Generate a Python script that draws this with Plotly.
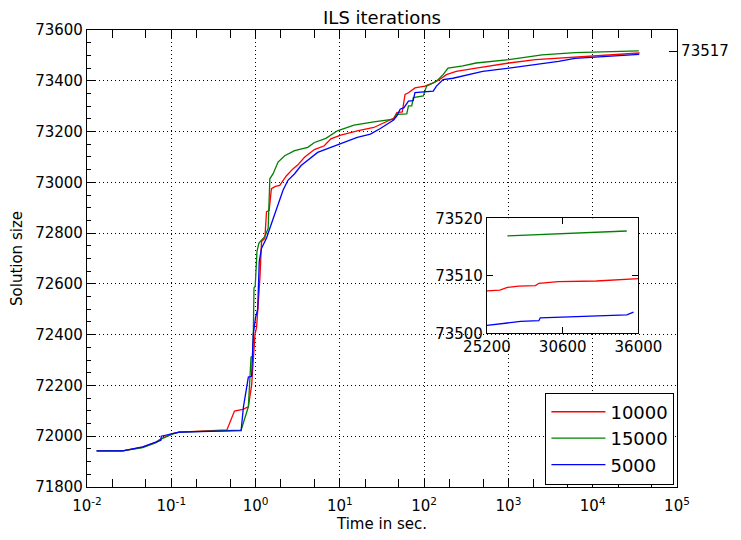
import plotly.graph_objects as go

# Best solution size found so far vs. elapsed time, for three ILS settings
t_10000 = [0.013, 0.0265, 0.0458, 0.0659, 0.0753, 0.103, 0.124, 0.457, 0.562, 0.704,
           0.821, 0.898, 0.940, 0.984, 1.028, 1.127, 1.177, 1.290, 1.347, 1.449,
           1.542, 1.718, 1.936, 2.313, 2.773, 3.176, 3.806, 4.988, 6.536, 7.813,
           10.24, 16.09, 25.27, 33.13, 43.41, 47.47, 55.0, 59.39, 65.12, 77.85,
           102.0, 128.1, 153.0, 183.4, 240.4, 413, 1016, 2093, 6173, 15190,
           25200, 26120, 26660, 27460, 28660, 28900, 30280, 33000, 36000]
v_10000 = [71942, 71942, 71957, 71977, 71990, 72010, 72016, 72025, 72099, 72106,
           72116, 72201, 72299, 72402, 72429, 72624, 72767, 72780, 72884, 72890,
           72975, 72984, 72988, 73025, 73053, 73069, 73099, 73129, 73144, 73171,
           73186, 73203, 73216, 73233, 73252, 73275, 73277, 73346, 73353, 73372,
           73379, 73392, 73405, 73424, 73437, 73450, 73470, 73483, 73493, 73502,
           73507.4, 73507.5, 73508.0, 73508.2, 73508.3, 73508.7, 73509.0, 73509.1, 73509.5]

t_15000 = [0.013, 0.0265, 0.0458, 0.0659, 0.0753, 0.103, 0.124, 0.674, 0.821, 0.860,
           0.884, 0.920, 0.940, 0.958, 0.990, 1.039, 1.097, 1.290, 1.411, 1.477,
           1.615, 1.849, 2.216, 2.904, 4.161, 4.988, 6.825, 9.367, 14.72, 25.27,
           43.41, 47.47, 62.2, 65.12, 71.2, 74.56, 97.7, 106.8, 140.0, 167.8,
           192.1, 288.3, 413, 1016, 2507, 6173, 15190,
           26660, 29000, 31000, 35170]
v_15000 = [71942, 71942, 71955, 71975, 71988, 72008, 72016, 72024, 72116, 72220,
           72312, 72314, 72402, 72585, 72590, 72728, 72761, 72787, 72819, 73014,
           73034, 73080, 73105, 73125, 73138, 73157, 73173, 73203, 73225, 73238,
           73249, 73268, 73270, 73301, 73301, 73334, 73340, 73379, 73398, 73424,
           73450, 73459, 73470, 73483, 73502, 73511, 73515,
           73516.95, 73517.2, 73517.4, 73517.8]

t_5000 = [0.013, 0.0265, 0.0458, 0.0659, 0.0753, 0.0760, 0.103, 0.124, 0.674, 0.718,
          0.821, 0.898, 0.940, 1.00, 1.06, 1.106, 1.177, 1.347, 1.477, 1.615,
          1.849, 2.117, 2.423, 2.904, 3.471, 4.357, 5.454, 7.813, 11.23, 16.09,
          23.05, 30.21, 43.41, 47.47, 51.9, 55.5, 57.7, 65.12, 74.0, 77.85,
          128.1, 140.0, 167.8, 220, 288.3, 495, 1016, 2093, 3929, 6173, 15190,
          25200, 26200, 26660, 27600, 28900, 29000, 32000, 35170, 35650]
v_5000 = [71942, 71942, 71958, 71979, 71984, 72000, 72010, 72016, 72022, 72116,
          72233, 72236, 72402, 72468, 72500, 72689, 72741, 72780, 72819, 72858,
          72917, 72969, 73008, 73034, 73066, 73092, 73118, 73138, 73157, 73177,
          73190, 73212, 73245, 73262, 73288, 73290, 73294, 73320, 73322, 73353,
          73359, 73379, 73405, 73410, 73420, 73437, 73450, 73463, 73476, 73488, 73497,
          73501.4, 73501.6, 73501.8, 73502.1, 73502.2, 73502.7, 73502.9, 73503.2, 73503.7]

series_names = ["10000", "15000", "5000"]
series_colors = ["#ff0000", "#008000", "#0000ff"]
series_t = [t_10000, t_15000, t_5000]
series_v = [v_10000, v_15000, v_5000]

x_decades = [-2, -1, 0, 1, 2, 3, 4, 5]
y_ticks = [71800, 72000, 72200, 72400, 72600, 72800, 73000, 73200, 73400, 73600]
inset_x_ticks = [25200, 30600, 36000]
inset_y_ticks = [73500, 73510, 73520]
inset_start = 25200

FONT = "DejaVu Sans"
best = int(max(max(v) for v in series_v))

fig = go.Figure()

for name, color, t, v in zip(series_names, series_colors, series_t, series_v):
    fig.add_trace(go.Scatter(x=t, y=v, mode="lines", name=name,
                             line=dict(color=color, width=1.3),
                             xaxis="x", yaxis="y"))

# zoomed view of the last hours of the runs
for name, color, t, v in zip(series_names, series_colors, series_t, series_v):
    pts = [(a, b) for a, b in zip(t, v) if a >= inset_start]
    fig.add_trace(go.Scatter(x=[p[0] for p in pts], y=[p[1] for p in pts],
                             mode="lines", showlegend=False,
                             line=dict(color=color, width=1.3),
                             xaxis="x2", yaxis="y3"))

# twin axis carrying the best final value
fig.add_trace(go.Scatter(x=[], y=[], xaxis="x", yaxis="y2", showlegend=False))

axis_common = dict(showline=True, linecolor="black", linewidth=1.2, zeroline=False,
                   tickcolor="black", tickfont=dict(family=FONT, size=15, color="black"))
grid = dict(showgrid=True, gridcolor="black", griddash="1px,3px", gridwidth=1)

fig.update_layout(
    width=741, height=540,
    margin=dict(l=87, r=58, t=30, b=49),
    paper_bgcolor="white", plot_bgcolor="white",
    font=dict(family=FONT, color="black"),
    title=dict(text="ILS iterations", font=dict(family=FONT, size=18, color="black"),
               x=0.5, xref="paper", xanchor="center", y=0.968, yref="container", yanchor="middle"),
    xaxis=dict(type="log", range=[-2, 5],
               tickvals=[10 ** d for d in x_decades],
               ticktext=[f"10<sup>{d}</sup>" for d in x_decades],
               ticks="inside", ticklen=8, mirror="allticks", ticklabelstandoff=5,
               minor=dict(ticks="inside", ticklen=4, tickcolor="black", showgrid=False),
               title=dict(text="Time in sec.", font=dict(family=FONT, size=15), standoff=2),
               **grid, **axis_common),
    yaxis=dict(range=[71800, 73600], tickvals=y_ticks, ticktext=[str(v) for v in y_ticks],
               ticks="inside", ticklen=8, mirror=True,
               minor=dict(dtick=50, ticks="inside", ticklen=4, tickcolor="black", showgrid=False),
               title=dict(text="Solution size", font=dict(family=FONT, size=15), standoff=8),
               **grid, **axis_common),
    yaxis2=dict(overlaying="y", side="right", range=[71800, 73600],
                tickvals=[best], ticktext=[str(best)], ticks="inside", ticklen=8,
                showgrid=False, **axis_common),
    xaxis2=dict(domain=[0.6779, 0.9346], anchor="y3", range=[25200, 36000],
                tickvals=inset_x_ticks, ticktext=[str(v) for v in inset_x_ticks],
                ticks="inside", ticklen=6, mirror="allticks", showgrid=False,
                **axis_common),
    yaxis3=dict(domain=[0.3362, 0.5879], anchor="x2", range=[73500, 73520],
                tickvals=inset_y_ticks, ticktext=[str(v) for v in inset_y_ticks],
                ticks="inside", ticklen=6, mirror="allticks", showgrid=False,
                **axis_common),
    legend=dict(x=0.777, y=0.2067, xanchor="left", yanchor="top",
                bgcolor="white", bordercolor="black", borderwidth=1,
                font=dict(family=FONT, size=18, color="black"),
                tracegroupgap=0, itemwidth=54),
)

fig.write_html("out.html")
